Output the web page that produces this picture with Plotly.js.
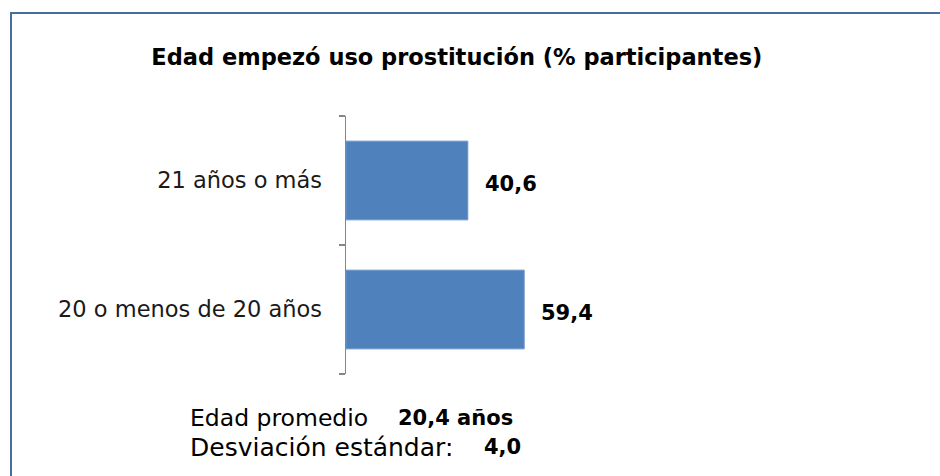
<!DOCTYPE html>
<html>
<head>
<meta charset="utf-8">
<script src="https://cdn.plot.ly/plotly-3.0.1.min.js"></script>
<style>html,body{margin:0;padding:0;background:#fff;}#chart{width:940px;height:476px;}</style>
</head>
<body>
<div id="chart"></div>
<script>
// Data
const categories = ["20 o menos de 20 años", "21 años o más"];
const values = [59.4, 40.6];
const titleText = "Edad empezó uso prostitución (% participantes)";
const meanLabel = "Edad promedio";
const meanValue = "20,4 años";
const sdLabel = "Desviación estándar:";
const sdValue = "4,0";

const FONT = "DejaVu Sans, sans-serif";

const trace = {
  type: "bar",
  orientation: "h",
  y: categories,
  x: values,
  width: 0.61,
  marker: {color: "#4f81bd", line: {color: "#6a94c8", width: 1}},
  hoverinfo: "none",
  showlegend: false
};

const valueAnnotations = categories.map((c, i) => ({
  x: values[i], y: c, xref: "x", yref: "y",
  text: "<b>" + values[i].toFixed(1).replace(".", ",") + "</b>",
  showarrow: false, xanchor: "left", yanchor: "middle", xshift: 15, yshift: -3,
  font: {family: FONT, size: 21, color: "#000"}
}));

const layout = {
  width: 940, height: 476,
  margin: {l: 346, r: 294, t: 116, b: 102, pad: 0},
  paper_bgcolor: "#fff", plot_bgcolor: "#fff",
  separators: ",.",
  title: {
    text: "<b>" + titleText + "</b>",
    x: 0.486, xanchor: "center", y: 0.88, yanchor: "middle", xref: "container", yref: "container",
    font: {family: FONT, size: 22.5, color: "#000"}
  },
  xaxis: {range: [0, 100], showgrid: false, zeroline: false, showticklabels: false, showline: false, fixedrange: true},
  yaxis: {
    type: "category", categoryarray: categories, categoryorder: "array",
    showline: true, linecolor: "#868686", linewidth: 1.5,
    ticks: "outside", ticklen: 6, tickcolor: "#868686", tickwidth: 1.5,
    tickson: "boundaries", showgrid: false, zeroline: false,
    ticklabelstandoff: 18,
    tickfont: {family: FONT, size: 22.5, color: "#1a1a1a"}
  },
  shapes: [{
    type: "rect", xref: "paper", yref: "paper",
    x0: (11 - 346) / 300, x1: 3, y0: -3, y1: (374 - 13) / 258,
    line: {color: "#4a6d9e", width: 2}, fillcolor: "rgba(0,0,0,0)"
  }],
  annotations: valueAnnotations.concat([
    {xref: "paper", yref: "paper", x: (188 - 346) / 300, y: (374 - 418) / 258, xanchor: "left", yanchor: "middle",
     text: meanLabel, showarrow: false, font: {family: FONT, size: 23.5, color: "#000"}},
    {xref: "paper", yref: "paper", x: (396 - 346) / 300, y: (374 - 418) / 258, xanchor: "left", yanchor: "middle",
     text: "<b>" + meanValue + "</b>", showarrow: false, font: {family: FONT, size: 21, color: "#000"}},
    {xref: "paper", yref: "paper", x: (188 - 346) / 300, y: (374 - 447) / 258, xanchor: "left", yanchor: "middle",
     text: sdLabel, showarrow: false, font: {family: FONT, size: 25, color: "#000"}},
    {xref: "paper", yref: "paper", x: (482 - 346) / 300, y: (374 - 447) / 258, xanchor: "left", yanchor: "middle",
     text: "<b>" + sdValue + "</b>", showarrow: false, font: {family: FONT, size: 21, color: "#000"}}
  ])
};

Plotly.newPlot("chart", [trace], layout, {displayModeBar: false, staticPlot: true});
</script>
</body>
</html>
